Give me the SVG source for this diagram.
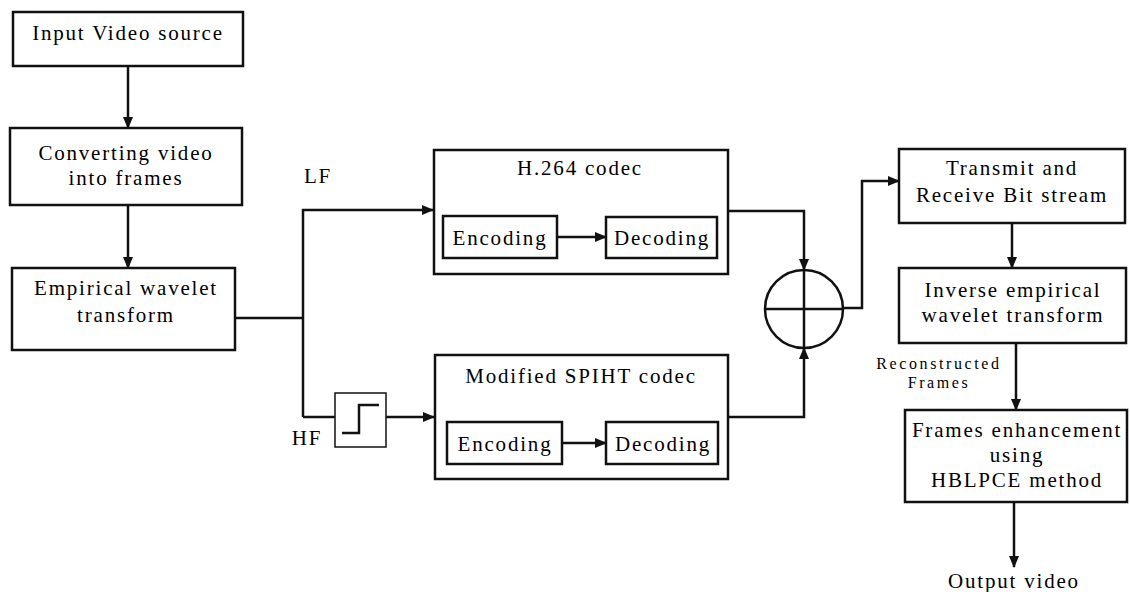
<svg xmlns="http://www.w3.org/2000/svg" width="1130" height="592" viewBox="0 0 1130 592">
<defs>
<marker id="ah" markerWidth="12" markerHeight="10" refX="11" refY="5" orient="auto" markerUnits="userSpaceOnUse">
<path d="M0,0 L12,5 L0,10 Z" fill="#111"/>
</marker>
<style>
.box{fill:#fff;stroke:#111;stroke-width:2.5}
.thin{fill:#fff;stroke:#111;stroke-width:1.5}
.ln{fill:none;stroke:#111;stroke-width:2.5}
.t{font-family:"Liberation Serif","Times New Roman",serif;font-size:21px;letter-spacing:1.8px;fill:#000;text-anchor:middle}
.s{font-family:"Liberation Serif","Times New Roman",serif;font-size:16px;letter-spacing:2.6px;fill:#000;text-anchor:middle}
</style>
</defs>
<rect width="1130" height="592" fill="#fff"/>
<g id="input">
<rect class="box" x="13" y="12" width="230" height="54"/>
<text class="t" x="128" y="40">Input Video source</text>
</g>
<g id="converting">
<rect class="box" x="10" y="128" width="232" height="77"/>
<text class="t" x="126" y="160">Converting video</text>
<text class="t" x="126" y="185">into frames</text>
</g>
<g id="ewt">
<rect class="box" x="12" y="268" width="223" height="82"/>
<text class="t" x="126" y="295">Empirical wavelet</text>
<text class="t" x="126" y="322">transform</text>
</g>
<g id="lf-label"><text class="t" x="318" y="183">LF</text></g>
<g id="hf-label"><text class="t" x="307" y="445">HF</text></g>
<g id="threshold">
<rect class="thin" x="335" y="393" width="51" height="54"/>
<path class="ln" stroke-width="2" d="M342,433 H359 V405 H379"/>
</g>
<g id="h264">
<rect class="box" x="434" y="150" width="294" height="124"/>
<text class="t" x="580" y="175">H.264 codec</text>
</g>
<g id="h264-enc">
<rect class="box" x="443" y="216" width="114" height="42"/>
<text class="t" x="500" y="245">Encoding</text>
</g>
<g id="h264-dec">
<rect class="box" x="606" y="217" width="111" height="41"/>
<text class="t" x="662" y="245">Decoding</text>
</g>
<g id="spiht">
<rect class="box" x="435" y="355" width="293" height="124"/>
<text class="t" x="581" y="383">Modified SPIHT codec</text>
</g>
<g id="spiht-enc">
<rect class="box" x="447" y="422" width="115" height="42"/>
<text class="t" x="505" y="451">Encoding</text>
</g>
<g id="spiht-dec">
<rect class="box" x="606" y="422" width="112" height="42"/>
<text class="t" x="663" y="451">Decoding</text>
</g>
<g id="adder">
<circle class="box" cx="804" cy="309" r="39"/>
<path class="ln" stroke-width="2" d="M765,309 H843 M804,270 V348"/>
</g>
<g id="transmit">
<rect class="box" x="899" y="149" width="226" height="74"/>
<text class="t" x="1012" y="175">Transmit and</text>
<text class="t" x="1012" y="202">Receive Bit stream</text>
</g>
<g id="inverse">
<rect class="box" x="899" y="268" width="227" height="75"/>
<text class="t" x="1013" y="297">Inverse empirical</text>
<text class="t" x="1013" y="322">wavelet transform</text>
</g>
<g id="recon-label">
<text class="s" x="939" y="369">Reconstructed</text>
<text class="s" x="939" y="388">Frames</text>
</g>
<g id="enhance">
<rect class="box" x="905" y="410" width="222" height="92"/>
<text class="t" x="1017" y="437">Frames enhancement</text>
<text class="t" x="1017" y="462">using</text>
<text class="t" x="1017" y="487">HBLPCE method</text>
</g>
<g id="output"><text class="t" x="1014" y="588">Output video</text></g>
<g id="connectors">
<path class="ln" d="M128,66 V128" marker-end="url(#ah)"/>
<path class="ln" d="M128,205 V268" marker-end="url(#ah)"/>
<path class="ln" d="M235,318 H303"/>
<path class="ln" d="M303,417 V210 H433" marker-end="url(#ah)"/>
<path class="ln" d="M303,417 H335"/>
<path class="ln" d="M386,417 H434" marker-end="url(#ah)"/>
<path class="ln" stroke-width="2" d="M557,237 H606" marker-end="url(#ah)"/>
<path class="ln" stroke-width="2" d="M562,443 H606" marker-end="url(#ah)"/>
<path class="ln" d="M728,211 H804 V270" marker-end="url(#ah)"/>
<path class="ln" d="M728,417 H804 V348" marker-end="url(#ah)"/>
<path class="ln" d="M843,308 H862 V181 H899" marker-end="url(#ah)"/>
<path class="ln" d="M1012,223 V268" marker-end="url(#ah)"/>
<path class="ln" d="M1016,343 V410" marker-end="url(#ah)"/>
<path class="ln" d="M1014,502 V567" marker-end="url(#ah)"/>
</g>
</svg>
